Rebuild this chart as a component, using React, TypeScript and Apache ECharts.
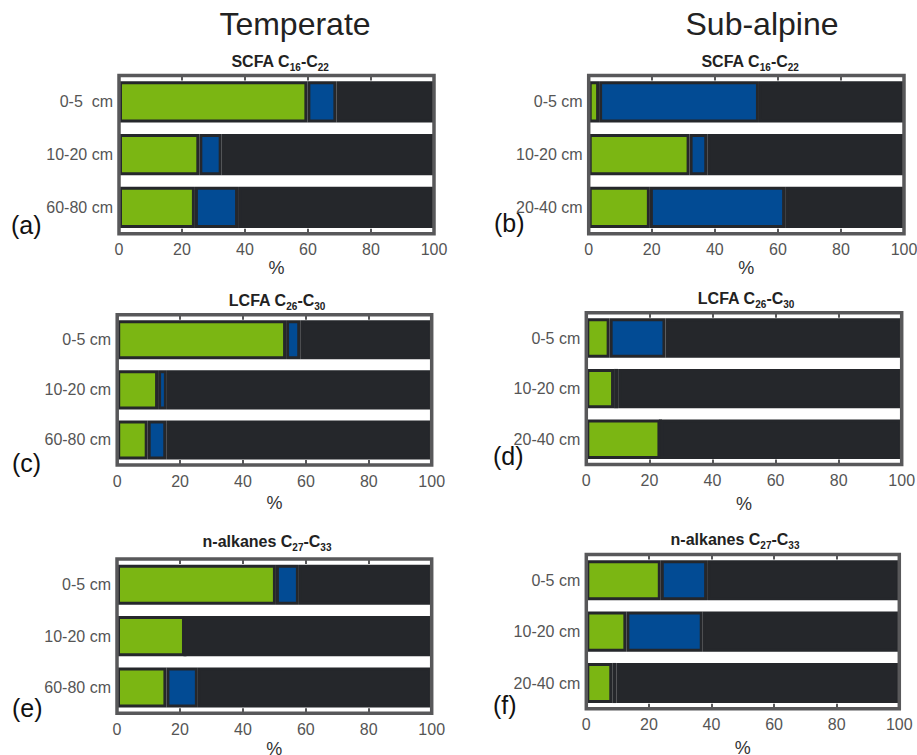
import React, { useEffect, useRef } from 'react';
import * as echarts from 'echarts';

// ---------- data ----------
const temperateDepthsA = ['0-5  cm', '10-20 cm', '60-80 cm'];
const temperateDepths = ['0-5 cm', '10-20 cm', '60-80 cm'];
const subalpineDepths = ['0-5 cm', '10-20 cm', '20-40 cm'];
const xTicks = [0, 20, 40, 60, 80, 100];

const columnTitles = ['Temperate', 'Sub-alpine'];
const panelLetters = ['(a)', '(b)', '(c)', '(d)', '(e)', '(f)'];
const panelTitles = [
  ['SCFA C', '16', '-C', '22'],
  ['SCFA C', '16', '-C', '22'],
  ['LCFA C', '26', '-C', '30'],
  ['LCFA C', '26', '-C', '30'],
  ['n-alkanes C', '27', '-C', '33'],
  ['n-alkanes C', '27', '-C', '33'],
];

// green share (%), blue share (%), remainder drawn dark
const scfaTempGreen = [59.8, 25.5, 24.1];
const scfaTempBlue = [9.2, 7.1, 13.7];
const scfaSubGreen = [3.3, 32.0, 19.4];
const scfaSubBlue = [50.7, 5.6, 42.9];
const lcfaTempGreen = [53.7, 13.0, 9.7];
const lcfaTempBlue = [4.5, 2.8, 5.9];
const lcfaSubGreen = [7.4, 8.8, 23.5];
const lcfaSubBlue = [17.7, 1.3, 0];
const alkTempGreen = [50.5, 21.6, 15.7];
const alkTempBlue = [7.3, 0, 10.0];
const alkSubGreen = [23.8, 12.8, 8.3];
const alkSubBlue = [14.8, 24.4, 1.4];

const panelCategories = [temperateDepthsA, subalpineDepths, temperateDepths, subalpineDepths, temperateDepths, subalpineDepths];
const panelGreen = [scfaTempGreen, scfaSubGreen, lcfaTempGreen, lcfaSubGreen, alkTempGreen, alkSubGreen];
const panelBlue = [scfaTempBlue, scfaSubBlue, lcfaTempBlue, lcfaSubBlue, alkTempBlue, alkSubBlue];

// ---------- layout / style ----------
const FONT = 'Liberation Sans, Arial, Helvetica, sans-serif';
const GREEN = '#7bb613';
const BLUE = '#024b94';
const DARK = '#25272b';
const FRAME = '#58585a';

const grids = [
  { left: 119, top: 75.5, width: 315, height: 158.2 },
  { left: 588.7, top: 75.5, width: 315.3, height: 158.2 },
  { left: 117.2, top: 314.7, width: 314.5, height: 150.3 },
  { left: 586.3, top: 312.8, width: 315.4, height: 151.7 },
  { left: 117, top: 559, width: 314.7, height: 154.2 },
  { left: 586.3, top: 554.5, width: 313, height: 154.2 },
];
const nameGaps = [23, 22, 29, 30, 27, 30];
const titlePos = [
  [280, 61], [750, 61], [277, 300], [746, 298], [267, 541], [735, 539],
];
const letterPos = [
  [11, 225], [494, 223], [12, 463], [493, 456], [12, 708], [493, 705],
];
const columnTitlePos = [[295, 24], [762, 24]];

export default function App() {
  const ref = useRef<HTMLDivElement>(null);
  useEffect(() => {
    if (!ref.current) return;
    const chart = echarts.init(ref.current, undefined, { renderer: 'svg' });

    const gridOpts: any[] = [];
    const xAxes: any[] = [];
    const yAxes: any[] = [];
    const series: any[] = [];
    const graphics: any[] = [];

    grids.forEach((g, i) => {
      gridOpts.push({
        ...g,
        show: true,
        z: 10,
        backgroundColor: 'transparent',
        borderColor: FRAME,
        borderWidth: 3.5,
        containLabel: false,
        outerBoundsMode: 'none',
      });
      const tick = { show: true, inside: true, length: 5, lineStyle: { color: FRAME, width: 2 } };
      xAxes.push({
        gridIndex: i,
        type: 'value',
        position: 'bottom',
        min: xTicks[0],
        max: xTicks[xTicks.length - 1],
        interval: xTicks[1] - xTicks[0],
        axisLine: { show: false },
        axisTick: tick,
        splitLine: { show: false },
        axisLabel: { color: '#555', fontSize: 16, fontFamily: FONT, margin: 8 },
        name: '%',
        nameLocation: 'middle',
        nameGap: nameGaps[i],
        nameTextStyle: { color: '#333', fontSize: 18, fontFamily: FONT },
        z: 10,
      });
      xAxes.push({
        gridIndex: i,
        type: 'value',
        position: 'top',
        min: xTicks[0],
        max: xTicks[xTicks.length - 1],
        interval: xTicks[1] - xTicks[0],
        axisLine: { show: false },
        axisTick: tick,
        splitLine: { show: false },
        axisLabel: { show: false },
        z: 10,
      });
      yAxes.push({
        gridIndex: i,
        type: 'category',
        inverse: true,
        data: panelCategories[i],
        axisLine: { show: false },
        axisTick: { show: false },
        splitLine: { show: false },
        axisLabel: { color: '#555', fontSize: 16, fontFamily: FONT, margin: 6 },
      });
      const green = panelGreen[i];
      const blue = panelBlue[i];
      const rest = green.map((v, k) => 100 - v - blue[k]);
      const common = {
        type: 'bar',
        xAxisIndex: 2 * i,
        yAxisIndex: i,
        stack: 'p' + i,
        barCategoryGap: '22%',
        silent: true,
      };
      series.push({ ...common, name: 'green' + i, data: green, itemStyle: { color: GREEN, borderColor: DARK, borderWidth: 3 } });
      series.push({ ...common, name: 'blue' + i, data: blue, itemStyle: { color: BLUE, borderColor: DARK, borderWidth: 3 } });
      series.push({ ...common, name: 'rest' + i, data: rest, itemStyle: { color: DARK, borderColor: DARK, borderWidth: 3 } });

      const t = panelTitles[i];
      graphics.push({
        type: 'text',
        x: titlePos[i][0],
        y: titlePos[i][1],
        style: {
          text: `{b|${t[0]}}{s|${t[1]}}{b|${t[2]}}{s|${t[3]}}`,
          align: 'center',
          verticalAlign: 'middle',
          textAlign: 'center',
          textVerticalAlign: 'middle',
          rich: {
            b: { fontSize: 16, fontWeight: 'bold', fontFamily: FONT, lineHeight: 22, fill: '#222', color: '#222' },
            s: { fontSize: 10, fontWeight: 'bold', fontFamily: FONT, lineHeight: 10, verticalAlign: 'bottom', fill: '#222', color: '#222' },
          },
        },
      });
      graphics.push({
        type: 'text',
        x: letterPos[i][0],
        y: letterPos[i][1],
        style: {
          text: panelLetters[i],
          fontSize: 25,
          fontFamily: FONT,
          fill: '#111',
          align: 'left',
          verticalAlign: 'middle',
          textAlign: 'left',
          textVerticalAlign: 'middle',
        },
      });
    });

    columnTitles.forEach((t, j) => {
      graphics.push({
        type: 'text',
        x: columnTitlePos[j][0],
        y: columnTitlePos[j][1],
        style: {
          text: t,
          fontSize: 32,
          fontFamily: FONT,
          fill: '#222',
          align: 'center',
          verticalAlign: 'middle',
          textAlign: 'center',
          textVerticalAlign: 'middle',
        },
      });
    });

    chart.setOption({
      animation: false,
      backgroundColor: '#ffffff',
      grid: gridOpts,
      xAxis: xAxes,
      yAxis: yAxes,
      series,
      graphic: graphics,
    });
    return () => chart.dispose();
  }, []);
  return (
    <div
      ref={ref}
      style={{ position: 'absolute', left: 0, top: 0, width: 917, height: 755 }}
    />
  );
}
